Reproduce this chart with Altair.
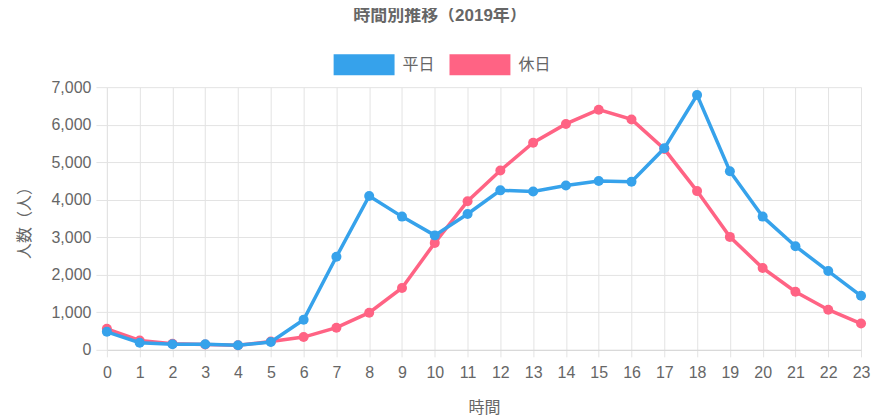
import altair as alt
import pandas as pd

hours = list(range(24))
weekday = [480, 190, 150, 150, 120, 210, 800, 2480, 4100, 3550, 3050, 3620,
           4250, 4220, 4380, 4500, 4480, 5370, 6790, 4760, 3550, 2760, 2100, 1440]
holiday = [560, 250, 160, 140, 120, 220, 340, 590, 990, 1650, 2850, 3960,
           4780, 5520, 6020, 6400, 6140, 5350, 4230, 3010, 2180, 1550, 1070, 700]
series = ["平日", "休日"]
colors = ["#36A2EB", "#FF6384"]

df = pd.DataFrame({
    "時間": hours * 2,
    "人数": weekday + holiday,
    "系列": [series[0]] * 24 + [series[1]] * 24,
})

FONT = "Helvetica Neue, Helvetica, Arial, Noto Sans CJK JP, sans-serif"
GRID = "#e3e3e3"
TXT = "#666666"

x = alt.X("時間:Q",
          scale=alt.Scale(domain=[0, 23], nice=False, zero=False),
          axis=alt.Axis(values=hours, format="d", title="時間",
                        labelFontSize=16, labelColor=TXT, labelPadding=8,
                        labelFlush=False,
                        tickSize=7, tickColor=GRID, gridColor=GRID,
                        domainColor="#d6d6d6", labelFont=FONT,
                        titleFont=FONT, titleFontSize=16, titleFontWeight="normal",
                        titleColor=TXT, titlePadding=19))
y = alt.Y("人数:Q",
          scale=alt.Scale(domain=[0, 7000], nice=False),
          axis=alt.Axis(values=list(range(0, 7001, 1000)), format=",d",
                        title="人数（人）", labelFontSize=16, labelColor=TXT,
                        labelPadding=5, labelFlush=False,
                        tickSize=11, tickColor=GRID,
                        gridColor=GRID, domainColor=GRID, labelFont=FONT,
                        titleFont=FONT, titleFontSize=16, titleFontWeight="normal",
                        titleColor=TXT, titlePadding=18))
color = alt.Color("系列:N",
                  scale=alt.Scale(domain=series, range=colors),
                  legend=alt.Legend(title=None, orient="none", direction="horizontal",
                                    legendX=227, legendY=-53,
                                    symbolType="M-1,-0.344H1V0.344H-1Z",
                                    symbolSize=3721, symbolOpacity=1,
                                    symbolStrokeWidth=0,
                                    labelFontSize=16, labelColor=TXT, labelFont=FONT,
                                    labelOffset=8, columnPadding=14))

base = alt.Chart(df).encode(x=x, y=y, color=color)

def layer(name):
    sub = base.transform_filter(alt.datum["系列"] == name)
    line = sub.mark_line(strokeWidth=3.5)
    pts = sub.mark_circle(size=100, opacity=1)
    return line + pts

chart = alt.layer(layer("休日"), layer("平日")).properties(
    width=755, height=263,
    autosize="none",
    padding={"left": 99, "top": 79, "right": 20, "bottom": 66},
    title=alt.TitleParams("時間別推移（2019年）", font=FONT, fontSize=17,
                          fontWeight="bold", color=TXT, anchor="middle",
                          dx=-44, offset=9),
).configure_view(stroke=None)

chart.save("out.html", embed_options={"renderer": "svg", "actions": False})
